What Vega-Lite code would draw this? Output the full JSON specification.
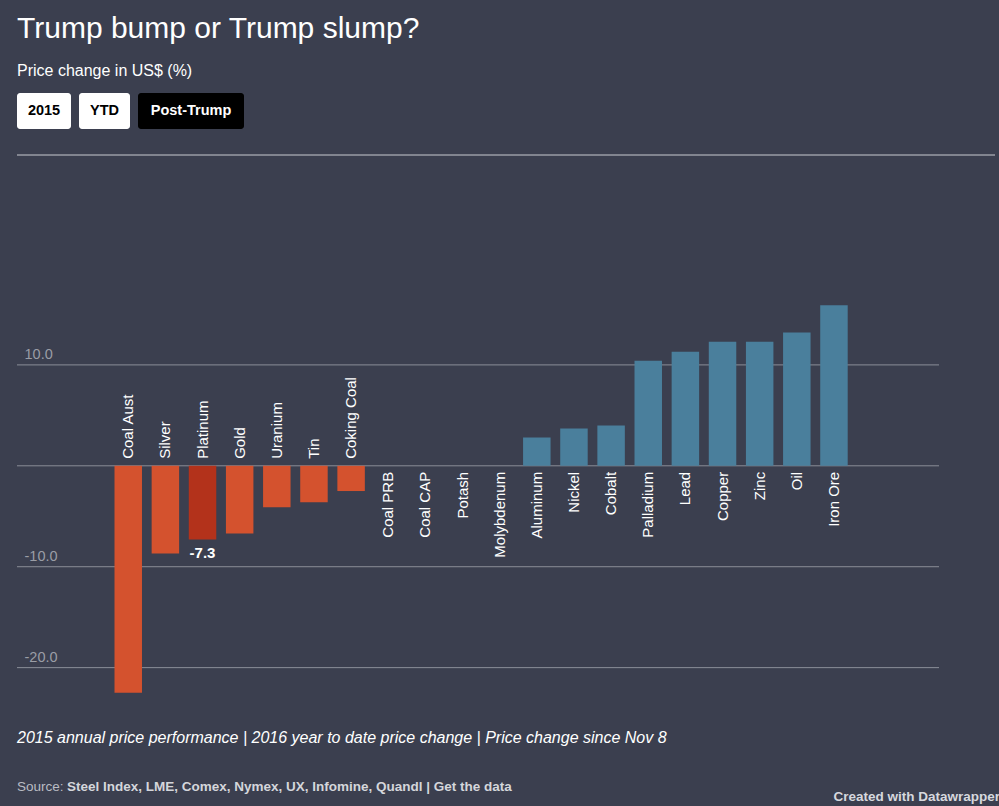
{
  "$schema": "https://vega.github.io/schema/vega-lite/v6.json",
  "background": "#3b3f4f",
  "padding": {"left": 16, "top": 13, "right": 5, "bottom": 2},
  "config": {"view": {"stroke": null}, "font": "Liberation Sans"},
  "title": {
    "text": "Trump bump or Trump slump?",
    "subtitle": "Price change in US$ (%)",
    "anchor": "start",
    "frame": "group",
    "font": "Liberation Sans",
    "fontSize": 30,
    "fontWeight": "normal",
    "color": "#ffffff",
    "subtitleFont": "Liberation Sans",
    "subtitleFontSize": 16,
    "subtitleColor": "#ffffff",
    "subtitlePadding": 19.5,
    "offset": 14
  },
  "spacing": 0,
  "vconcat": [
    {
      "spacing": 8,
      "hconcat": [
        {
          "width": 54,
          "height": 36,
          "data": {"values": [{"option": "2015"}]},
          "layer": [
            {"mark": {"type": "rect", "cornerRadius": 3, "color": "#ffffff"},
             "encoding": {"x": {"value": 0}, "x2": {"value": "width"}, "y": {"value": 0}, "y2": {"value": "height"}}},
            {"mark": {"type": "text", "fontWeight": "bold", "fontSize": 14.5, "baseline": "middle", "align": "center", "color": "#000000"},
             "encoding": {"text": {"field": "option", "type": "nominal"}}}
          ]
        },
        {
          "width": 51,
          "height": 36,
          "data": {"values": [{"option": "YTD"}]},
          "layer": [
            {"mark": {"type": "rect", "cornerRadius": 3, "color": "#ffffff"},
             "encoding": {"x": {"value": 0}, "x2": {"value": "width"}, "y": {"value": 0}, "y2": {"value": "height"}}},
            {"mark": {"type": "text", "fontWeight": "bold", "fontSize": 14.5, "baseline": "middle", "align": "center", "color": "#000000"},
             "encoding": {"text": {"field": "option", "type": "nominal"}}}
          ]
        },
        {
          "width": 106,
          "height": 36,
          "data": {"values": [{"option": "Post-Trump"}]},
          "layer": [
            {"mark": {"type": "rect", "cornerRadius": 3, "color": "#000000"},
             "encoding": {"x": {"value": 0}, "x2": {"value": "width"}, "y": {"value": 0}, "y2": {"value": "height"}}},
            {"mark": {"type": "text", "fontWeight": "bold", "fontSize": 14.5, "baseline": "middle", "align": "center", "color": "#ffffff"},
             "encoding": {"text": {"field": "option", "type": "nominal"}}}
          ]
        }
      ]
    },
    {
      "width": 978,
      "height": 26,
      "data": {"values": [{"divider": "header"}]},
      "mark": {"type": "rule", "color": "#c9cbd1", "strokeWidth": 1},
      "encoding": {"y": {"value": "height"}}
    },
    {
      "width": 922,
      "height": 552,
      "data": {"values": [
        {"commodity": "Coal Aust", "value": -22.5},
        {"commodity": "Silver", "value": -8.7},
        {"commodity": "Platinum", "value": -7.3},
        {"commodity": "Gold", "value": -6.7},
        {"commodity": "Uranium", "value": -4.1},
        {"commodity": "Tin", "value": -3.6},
        {"commodity": "Coking Coal", "value": -2.5},
        {"commodity": "Coal PRB", "value": 0},
        {"commodity": "Coal CAP", "value": 0},
        {"commodity": "Potash", "value": 0},
        {"commodity": "Molybdenum", "value": 0},
        {"commodity": "Aluminum", "value": 2.8},
        {"commodity": "Nickel", "value": 3.7},
        {"commodity": "Cobalt", "value": 4.0},
        {"commodity": "Palladium", "value": 10.4},
        {"commodity": "Lead", "value": 11.3},
        {"commodity": "Copper", "value": 12.3},
        {"commodity": "Zinc", "value": 12.3},
        {"commodity": "Oil", "value": 13.2},
        {"commodity": "Iron Ore", "value": 15.9}
      ]},
      "title": {
        "text": "2015 annual price performance | 2016 year to date price change | Price change since Nov 8",
        "orient": "bottom",
        "anchor": "start",
        "frame": "group",
        "font": "Liberation Sans",
        "fontSize": 16,
        "fontStyle": "italic",
        "fontWeight": "normal",
        "color": "#ffffff",
        "offset": 22
      },
      "layer": [
        {
          "data": {"values": [{"grid": -20}, {"grid": -10}, {"grid": 0}, {"grid": 10}]},
          "mark": {"type": "rule", "color": "#8b8e98", "strokeWidth": 1},
          "encoding": {
            "y": {
              "field": "grid",
              "type": "quantitative",
              "scale": {"domain": [-24, 30.7], "nice": false, "zero": true},
              "axis": {
                "values": [-20, -10, 0, 10],
                "grid": false,
                "domain": false,
                "ticks": false,
                "tickSize": 0,
                "labelAlign": "left",
                "labelBaseline": "bottom",
                "labelPadding": -7,
                "labelOffset": -3,
                "labelColor": "#9a9da6",
                "labelFontSize": 14.5,
                "labelFont": "Liberation Sans",
                "labelExpr": "datum.value === 0 ? '' : datum.value + '.0'",
                "title": null
              }
            }
          }
        },
        {
          "mark": {"type": "bar"},
          "encoding": {
            "x": {
              "field": "commodity",
              "type": "nominal",
              "sort": null,
              "scale": {"paddingInner": 0.26, "paddingOuter": 0, "range": [97.5, 830.7]},
              "axis": null
            },
            "y": {
              "field": "value",
              "type": "quantitative",
              "scale": {"domain": [-24, 30.7], "nice": false, "zero": true},
              "axis": {
                "values": [-20, -10, 0, 10],
                "grid": false,
                "domain": false,
                "ticks": false,
                "tickSize": 0,
                "labelAlign": "left",
                "labelBaseline": "bottom",
                "labelPadding": -7,
                "labelOffset": -3,
                "labelColor": "#9a9da6",
                "labelFontSize": 14.5,
                "labelFont": "Liberation Sans",
                "labelExpr": "datum.value === 0 ? '' : datum.value + '.0'",
                "title": null
              }
            },
            "color": {
              "condition": [
                {"test": "datum.commodity === 'Platinum'", "value": "#b3321b"},
                {"test": "datum.value < 0", "value": "#d4522e"}
              ],
              "value": "#4a7f9c"
            }
          }
        },
        {
          "transform": [{"filter": "datum.value < 0"}],
          "mark": {"type": "text", "angle": 270, "align": "left", "baseline": "middle", "dx": 7, "fontSize": 15, "color": "#ffffff"},
          "encoding": {
            "x": {"field": "commodity", "type": "nominal", "sort": null},
            "y": {"datum": 0},
            "text": {"field": "commodity", "type": "nominal"},
            "fontWeight": {"condition": {"test": "datum.commodity === 'Platinum'", "value": "bold"}, "value": "normal"}
          }
        },
        {
          "transform": [{"filter": "datum.value >= 0"}],
          "mark": {"type": "text", "angle": 270, "align": "right", "baseline": "middle", "dx": -6, "fontSize": 15, "color": "#ffffff"},
          "encoding": {
            "x": {"field": "commodity", "type": "nominal", "sort": null},
            "y": {"datum": 0},
            "text": {"field": "commodity", "type": "nominal"}
          }
        },
        {
          "transform": [{"filter": "datum.commodity === 'Platinum'"}],
          "mark": {"type": "text", "align": "center", "baseline": "top", "dy": 7, "fontSize": 15, "fontWeight": "bold", "color": "#ffffff"},
          "encoding": {
            "x": {"field": "commodity", "type": "nominal", "sort": null},
            "y": {"field": "value", "type": "quantitative"},
            "text": {"field": "value", "type": "nominal"}
          }
        }
      ]
    },
    {
      "width": 978,
      "height": 55,
      "data": {"values": [{"label": "Source:", "sources": "Steel Index, LME, Comex, Nymex, UX, Infomine, Quandl | Get the data", "credit": "Created with Datawrapper"}]},
      "layer": [
        {
          "mark": {"type": "text", "align": "left", "baseline": "alphabetic", "fontSize": 13.5, "fontWeight": "normal", "color": "#b9bcc3", "dy": -10},
          "encoding": {
            "x": {"value": 0},
            "y": {"value": "height"},
            "text": {"field": "label", "type": "nominal"}
          }
        },
        {
          "mark": {"type": "text", "align": "left", "baseline": "alphabetic", "fontSize": 13.5, "fontWeight": "bold", "color": "#d4d6db", "dx": 50, "dy": -10},
          "encoding": {
            "x": {"value": 0},
            "y": {"value": "height"},
            "text": {"field": "sources", "type": "nominal"}
          }
        },
        {
          "mark": {"type": "text", "align": "right", "baseline": "alphabetic", "fontSize": 13.5, "fontWeight": "bold", "color": "#d6d8de", "dx": 5},
          "encoding": {
            "x": {"value": "width"},
            "y": {"value": "height"},
            "text": {"field": "credit", "type": "nominal"}
          }
        }
      ]
    }
  ]
}
